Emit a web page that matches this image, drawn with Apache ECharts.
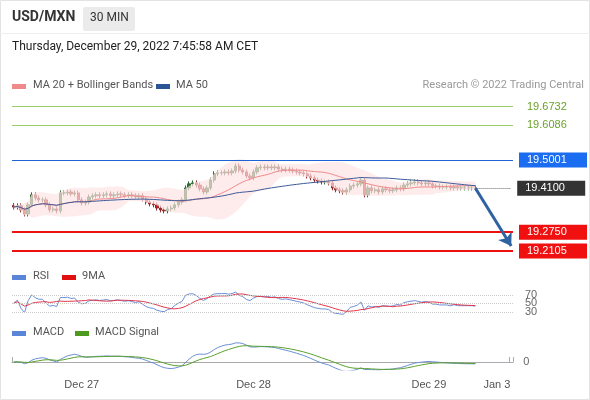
<!DOCTYPE html><html><head><meta charset="utf-8"><script src="https://cdn.jsdelivr.net/npm/echarts@6/dist/echarts.min.js"></script>
<style>html,body{margin:0;padding:0;background:#fff}#c{width:590px;height:400px}</style></head><body><div id="c"></div><script>
const closes=[19.350,19.354,19.341,19.328,19.357,19.389,19.379,19.373,19.373,19.357,
19.341,19.344,19.338,19.395,19.395,19.398,19.392,19.395,19.373,19.363,
19.366,19.382,19.386,19.389,19.386,19.389,19.392,19.386,19.389,19.392,
19.389,19.386,19.389,19.386,19.382,19.386,19.376,19.366,19.360,19.357,
19.347,19.341,19.338,19.344,19.347,19.357,19.366,19.373,19.411,19.424,
19.427,19.420,19.408,19.398,19.411,19.436,19.456,19.459,19.459,19.462,
19.459,19.465,19.481,19.468,19.462,19.449,19.443,19.462,19.475,19.478,
19.475,19.478,19.475,19.478,19.471,19.468,19.471,19.468,19.465,19.462,
19.459,19.456,19.449,19.443,19.436,19.433,19.430,19.430,19.427,19.411,
19.405,19.402,19.398,19.405,19.417,19.420,19.424,19.436,19.389,19.411,
19.402,19.405,19.398,19.408,19.405,19.402,19.405,19.411,19.408,19.420,
19.424,19.427,19.430,19.427,19.424,19.427,19.424,19.417,19.417,19.414,
19.414,19.414,19.411,19.414,19.411,19.411,19.411,19.411,19.411,19.410];
const firstOpen=19.355;
const wick=0.008;
const nSlots=140;
const dateLabels={19:'Dec 27',67:'Dec 28',116:'Dec 29',135:'Jan 3'};
const levels={res2:19.6732,res1:19.6086,pivot:19.5001,last:19.4100,sup1:19.2750,sup2:19.2105};
const rsiLevels=[70,50,30];

const cats=[];for(let i=0;i<nSlots;i++)cats.push(i);
const candles=closes.map((c,i)=>{const o=i?closes[i-1]:firstOpen;return [o,c,Math.min(o,c)-wick,Math.max(o,c)+wick];});
function sma(a,n,i){const s=a.slice(Math.max(0,i-n+1),i+1);return s.reduce((x,y)=>x+y,0)/s.length;}
const ma20=[],up=[],lo=[],ma50=[];
closes.forEach((c,i)=>{const m=sma(closes,20,i);const s=closes.slice(Math.max(0,i-19),i+1);const sd=Math.sqrt(s.reduce((x,y)=>x+(y-m)**2,0)/s.length)||0.005;ma20.push(m);lo.push(m-2*sd);up.push(4*sd);ma50.push(sma(closes,50,i));});
const rsi=[];let ag=0.001,al=0.001;
closes.forEach((c,i)=>{const d=i?c-closes[i-1]:0;const g=Math.max(d,0),l=Math.max(-d,0);ag=(ag*13+g)/14;al=(al*13+l)/14;rsi.push(100-100/(1+ag/al));});
const rsiMa=rsi.map((v,i)=>sma(rsi,9,i));
function ema(a,n){const k=2/(n+1);let e=a[0];return a.map(v=>e=v*k+e*(1-k));}
const e12=ema(closes,12),e26=ema(closes,26);const macd=e12.map((v,i)=>v-e26[i]);const sig=ema(macd,9);
const M=Math.max(...macd.map(Math.abs))*1.15;

const ch=echarts.init(document.getElementById('c'));
const lab=(t,bg,fg)=>({show:true,position:'end',formatter:t,color:fg||'#fff',backgroundColor:bg,padding:[2,6,2,8],fontSize:11,distance:6,width:54});
ch.setOption({animation:false,
grid:[{left:12,right:77,top:95,height:167},{left:12,right:77,top:282,height:42.5},{left:12,right:77,top:340,height:30}],
xAxis:[0,1,2].map(g=>({type:'category',gridIndex:g,data:cats,boundaryGap:true,axisLine:{show:g==2,lineStyle:{color:'#aaa'}},axisTick:{show:g==2,interval:(i)=>i==0||i==nSlots-1,inside:true,length:5,lineStyle:{color:'#aaa'}},
 axisLabel:{show:g==2,interval:(i)=>dateLabels[i]!==undefined,formatter:(v)=>dateLabels[v]||'',color:'#555',fontSize:11,margin:9},splitLine:{show:false}})),
yAxis:[{gridIndex:0,min:19.175,max:19.707,show:false,scale:true},{gridIndex:1,min:0,max:100,show:false},{gridIndex:2,min:-M*0.364,max:M,show:false}],
series:[
{type:'line',data:lo,stack:'bb',symbol:'none',lineStyle:{width:0},areaStyle:{opacity:0},silent:true},
{type:'line',data:up,stack:'bb',symbol:'none',lineStyle:{width:0},areaStyle:{color:'#fde3e3'},silent:true},
{type:'candlestick',data:candles,barWidth:2.8,itemStyle:{color:'#2e7d32',color0:'#c62828',borderColor:'#1f5a22',borderColor0:'#8a1c1c',borderWidth:0.9},
 markLine:{silent:true,symbol:'none',data:[
  {yAxis:levels.res2,lineStyle:{color:'#9ccc65',width:1,type:'solid'},label:lab('19.6732','transparent','#6aa12a')},
  {yAxis:levels.res1,lineStyle:{color:'#9ccc65',width:1,type:'solid'},label:lab('19.6086','transparent','#6aa12a')},
  {yAxis:levels.pivot,lineStyle:{color:'#1e64d6',width:1,type:'solid'},label:lab('19.5001','#1a6cf0')},
  {yAxis:levels.sup1,lineStyle:{color:'#ee1111',width:2,type:'solid'},label:lab('19.2750','#f01010')},
  {yAxis:levels.sup2,lineStyle:{color:'#ee1111',width:2,type:'solid'},label:lab('19.2105','#f01010')},
  [{coord:[129,levels.last],lineStyle:{color:'#666',width:1,type:'dotted'}},{coord:[nSlots-1,levels.last],label:lab('19.4100','#333')}],
  [{coord:[129,levels.last],symbol:'none',lineStyle:{color:'#2f62a0',width:3,type:'solid'},label:{show:false}},{coord:[139,19.226],symbol:'arrow',symbolSize:12,label:{show:false}}]
 ]}},
{type:'line',data:ma20,symbol:'none',lineStyle:{color:'#ef8a8a',width:1}},
{type:'line',data:ma50,symbol:'none',lineStyle:{color:'#3b5a9a',width:1}},
{type:'line',xAxisIndex:1,yAxisIndex:1,data:rsi,symbol:'none',lineStyle:{color:'#6b8fd6',width:1},
 markLine:{silent:true,symbol:'none',label:{show:true,position:'end',color:'#666',fontSize:11,distance:12},lineStyle:{color:'#ccc',type:'dotted',width:1},data:rsiLevels.map(v=>({yAxis:v}))}},
{type:'line',xAxisIndex:1,yAxisIndex:1,data:rsiMa,symbol:'none',lineStyle:{color:'#e0364a',width:1}},
{type:'line',xAxisIndex:2,yAxisIndex:2,data:macd,symbol:'none',lineStyle:{color:'#6b8fd6',width:1},
 markLine:{silent:true,symbol:'none',label:{show:true,position:'end',color:'#666',fontSize:11,distance:12,formatter:'0'},lineStyle:{color:'#aab',type:'dotted',width:1},data:[[{coord:[129,0]},{coord:[nSlots-1,0]}]]}},
{type:'line',xAxisIndex:2,yAxisIndex:2,data:sig,symbol:'none',lineStyle:{color:'#5aa02c',width:1}}
],
graphic:[
{type:'rect',shape:{x:0.5,y:0.5,width:589,height:399},style:{fill:'none',stroke:'#e3e3e3'}},
{type:'text',left:12,top:10,style:{text:'USD/MXN',font:'bold 14px Roboto',fill:'#333'}},
{type:'rect',shape:{x:83,y:7,width:52,height:24,r:2},style:{fill:'#ebebeb'}},
{type:'text',left:90,top:12,style:{text:'30 MIN',font:'12px Roboto',fill:'#333'}},
{type:'rect',shape:{x:0,y:33,width:590,height:1},style:{fill:'#eee'}},
{type:'text',left:12,top:41,style:{text:'Thursday, December 29, 2022 7:45:58 AM CET',font:'12px Roboto',fill:'#222'}},
{type:'rect',shape:{x:12,y:84,width:14,height:5},style:{fill:'#f08a8a'}},
{type:'text',left:33,top:80,style:{text:'MA 20 + Bollinger Bands',font:'11px Roboto',fill:'#555'}},
{type:'rect',shape:{x:156,y:84,width:14,height:5},style:{fill:'#2c5595'}},
{type:'text',left:176,top:80,style:{text:'MA 50',font:'11px Roboto',fill:'#555'}},
{type:'text',right:6,top:80,style:{text:'Research © 2022 Trading Central',font:'11px Roboto',fill:'#999'}},
{type:'rect',shape:{x:12,y:275,width:14,height:5},style:{fill:'#5b85d6'}},
{type:'text',left:33,top:271,style:{text:'RSI',font:'11px Roboto',fill:'#555'}},
{type:'rect',shape:{x:62,y:275,width:14,height:5},style:{fill:'#e01010'}},
{type:'text',left:82,top:271,style:{text:'9MA',font:'11px Roboto',fill:'#555'}},
{type:'rect',shape:{x:12,y:331,width:14,height:5},style:{fill:'#5b85d6'}},
{type:'text',left:33,top:327,style:{text:'MACD',font:'11px Roboto',fill:'#555'}},
{type:'rect',shape:{x:75,y:331,width:14,height:5},style:{fill:'#4e9a1e'}},
{type:'text',left:95,top:327,style:{text:'MACD Signal',font:'11px Roboto',fill:'#555'}}
]});
</script></body></html>
